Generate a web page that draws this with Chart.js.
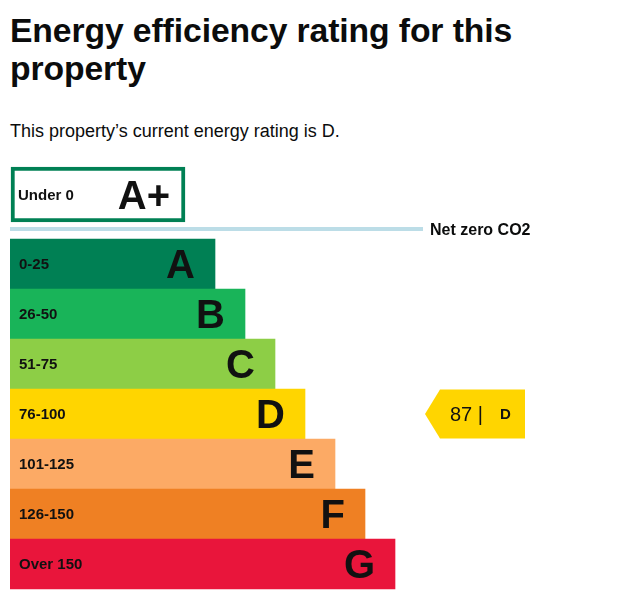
<!DOCTYPE html>
<html>
<head>
<meta charset="utf-8">
<script src="https://cdn.jsdelivr.net/npm/chart.js@4.4.1/dist/chart.umd.min.js"></script>
<style>
  body { margin: 0; background: #fff; width: 642px; height: 610px; position: relative; overflow: hidden; }
  #title { position: absolute; left: 10px; top: 11px; margin: 0; font: bold 33.7px "Liberation Sans", Arial, sans-serif; line-height: 38px; color: #0b0c0c; letter-spacing: -0.1px; }
  #subtitle { position: absolute; left: 10px; top: 121px; margin: 0; font: 18px "Liberation Sans", Arial, sans-serif; line-height: 20px; color: #0b0c0c; }
  #chart { position: absolute; left: 0; top: 150px; }
</style>
</head>
<body>
<h1 id="title">Energy efficiency rating for this<br>property</h1>
<p id="subtitle">This property’s current energy rating is D.</p>
<canvas id="chart" width="642" height="450"></canvas>
<script>
// bands, top to bottom
var bandLetters = ["A", "B", "C", "D", "E", "F", "G"];
var bandRanges = ["0-25", "26-50", "51-75", "76-100", "101-125", "126-150", "Over 150"];
var bandLengths = [205, 235, 265, 295, 325, 355, 385];
var bandColors = ["#008054", "#19b459", "#8dce46", "#ffd500", "#fcaa65", "#ef8023", "#e9153b"];

// the A+ band sits above the net zero line
var topLetter = "A+";
var topRange = "Under 0";
var topSpan = [1, 175];
var topRow = -0.39;

var netZeroLabel = "Net zero CO2";
var netZeroRow = 0.3;
var netZeroLength = 413;

var currentScore = 87;
var currentBand = "D";
var markerSpan = [415, 430, 515]; // tip, shoulder, end

var font = '"Liberation Sans", Arial, sans-serif';

function textMid(ctx, txt, x, yc, size, weight, align) {
  ctx.font = weight + " " + size + "px " + font;
  ctx.textAlign = align;
  ctx.textBaseline = "alphabetic";
  ctx.fillText(txt, x, yc + size * 0.716 / 2);
}

var labelsPlugin = {
  id: "epcLabels",
  beforeDatasetsDraw: function (chart) {
    var ctx = chart.ctx;
    var xs = chart.scales.x, ys = chart.scales.y;
    // net zero line
    var yl = ys.getPixelForValue(netZeroRow);
    ctx.save();
    ctx.strokeStyle = "#bcdde7";
    ctx.lineWidth = 4;
    ctx.beginPath();
    ctx.moveTo(xs.getPixelForValue(0), yl);
    ctx.lineTo(xs.getPixelForValue(netZeroLength), yl);
    ctx.stroke();
    ctx.fillStyle = "#0b0c0c";
    textMid(ctx, netZeroLabel, xs.getPixelForValue(netZeroLength + 7), yl, 16, "bold", "left");
    ctx.restore();
  },
  afterDatasetsDraw: function (chart) {
    var ctx = chart.ctx;
    var xs = chart.scales.x, ys = chart.scales.y;
    ctx.save();
    ctx.fillStyle = "#111";
    // A+
    var yt = ys.getPixelForValue(topRow);
    textMid(ctx, topRange, xs.getPixelForValue(topSpan[0] + 7), yt, 15, "bold", "left");
    textMid(ctx, topLetter, xs.getPixelForValue(topSpan[1] - 15), yt, 40, "bold", "right");
    // bands
    bandLetters.forEach(function (l, i) {
      var yc = ys.getPixelForValue(i + 1);
      textMid(ctx, bandRanges[i], xs.getPixelForValue(9), yc, 15, "bold", "left");
      textMid(ctx, l, xs.getPixelForValue(bandLengths[i] - 20), yc, 40, "bold", "right");
    });
    // current rating marker
    var bi = bandLetters.indexOf(currentBand);
    var ym = ys.getPixelForValue(bi + 1);
    var half = 24.5;
    ctx.fillStyle = bandColors[bi];
    ctx.beginPath();
    ctx.moveTo(xs.getPixelForValue(markerSpan[0]), ym);
    ctx.lineTo(xs.getPixelForValue(markerSpan[1]), ym - half);
    ctx.lineTo(xs.getPixelForValue(markerSpan[2]), ym - half);
    ctx.lineTo(xs.getPixelForValue(markerSpan[2]), ym + half);
    ctx.lineTo(xs.getPixelForValue(markerSpan[1]), ym + half);
    ctx.closePath();
    ctx.fill();
    ctx.fillStyle = "#111";
    textMid(ctx, currentScore + " |", xs.getPixelForValue(markerSpan[1] + 10), ym, 20, "normal", "left");
    textMid(ctx, currentBand, xs.getPixelForValue(markerSpan[1] + 60), ym, 15, "bold", "left");
    ctx.restore();
  }
};

new Chart(document.getElementById("chart"), {
  type: "bar",
  data: {
    datasets: [
      {
        data: [{ x: topSpan, y: topRow }],
        backgroundColor: "#fff",
        borderColor: "#008054",
        borderWidth: 4,
        borderSkipped: false,
        barThickness: 55,
        grouped: false,
      },
      {
        data: bandLengths.map(function (v, i) { return { x: [0, v], y: i + 1 }; }),
        backgroundColor: bandColors,
        borderWidth: 0,
        barThickness: 50,
        grouped: false,
      },
    ],
  },
  options: {
    indexAxis: "y",
    responsive: false,
    animation: false,
    layout: { padding: { left: 10, right: 0, top: 0, bottom: 0 } },
    scales: {
      x: { type: "linear", min: 0, max: 632, display: false, offset: false },
      y: { type: "linear", min: -1.28, max: 7.72, reverse: true, display: false, offset: false },
    },
    plugins: {
      legend: { display: false },
      tooltip: { enabled: false },
    },
  },
  plugins: [labelsPlugin],
});
</script>
</body>
</html>
